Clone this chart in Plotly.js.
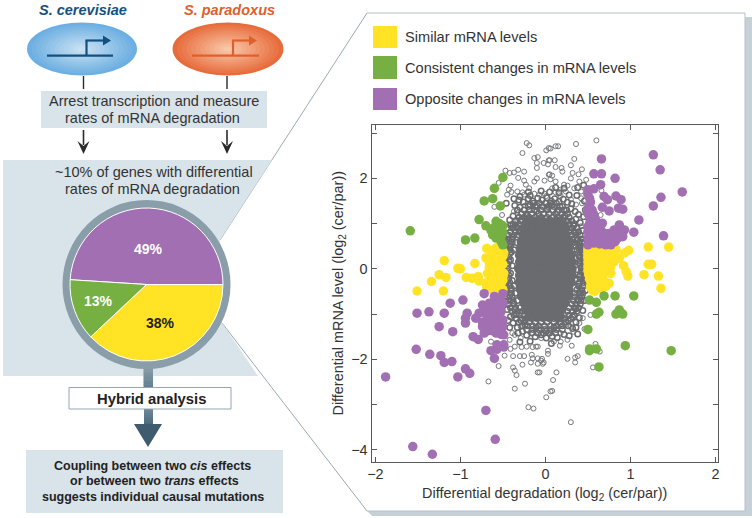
<!DOCTYPE html>
<html><head><meta charset="utf-8">
<script src="https://cdn.plot.ly/plotly-3.0.1.min.js"></script>
<style>html,body{margin:0;padding:0;background:#fff}</style></head>
<body><div id="chart" style="width:752px;height:518px"></div>
<script>
// ---------- data ----------
const pieLabels = ["Opposite changes in mRNA levels","Similar mRNA levels","Consistent changes in mRNA levels"];
const pieValues = [49,38,13];
const legendLabels = ["Similar mRNA levels","Consistent changes in mRNA levels","Opposite changes in mRNA levels"];

const similarPts = [[-.69,.45],[-.70,.24],[-1.19,.18],[-.83,.12],[-1.03,.01],[-1.0,0],[-1.25,-.13],[-1.17,-.19],[-1.34,-.28],[-.93,-.19],[-.86,-.21],[-.79,-.17],[-1.51,-.49],[-1.2,-.49],[-.78,-.27],[-.70,-.32],[-.64,.27],[-.56,.35],[-.50,.38],[-.66,.13],[-.60,.13],[-.54,.20],[-.62,-.02],[-.54,.01],[-.49,-.10],[-.64,-.17],[-.56,-.17],[-.50,-.17],[-.68,-.32],[-.60,-.32],[-.52,-.32],[-.62,-.47],[-.56,-.47],[-.58,.46],[-.49,.35],
[-.52,.45],[-.6,.42],[-.5,.28],[-.57,.24],[-.65,.2],[-.5,.1],[-.58,.06],[-.66,.03],[-.6,-.08],[-.52,-.08],[-.68,-.1],[-.58,-.24],[-.66,-.25],[-.5,-.25],[-.62,-.38],[-.54,-.4],[-.69,-.42],[-.5,-.46],
[1.21,.48],[1.45,.48],[1.21,.10],[1.25,.10],[1.16,-.13],[1.33,-.16],[1.36,-.43],[.98,.41],[.93,.35],[.83,.43],[.79,.31],[.87,.24],[.81,.16],[.92,.07],[.95,-.06],[.97,-.16],[.77,.05],[.77,-.10],[.75,-.32],[.71,-.39],[.50,.38],[.57,.38],[.65,.38],[.73,.38],[.50,.24],[.57,.24],[.65,.24],[.50,.05],[.57,.05],[.65,.05],[.51,-.13],[.59,-.13],[.67,-.13],[.54,-.32],[.61,-.32],[.69,-.32],[.55,-.47],[.63,-.43],
[.5,.44],[.58,.44],[.66,.46],[.5,.31],[.57,.31],[.65,.31],[.73,.28],[.5,.15],[.57,.15],[.65,.15],[.72,.16],[.5,-.04],[.57,-.04],[.65,-.04],[.72,-.02],[.52,-.23],[.6,-.23],[.68,-.23],[.53,-.4],[.6,-.4],[.66,-.45],[.58,-.5]];

const consistentPts = [[-.50,2.02],[-.60,1.78],[-.72,1.50],[-.62,1.55],[-.53,1.39],[-.78,1.09],[-.70,.95],[-1.59,.84],[-.94,.64],[-.83,.68],[-.58,1.05],[-.54,1.0],[-.62,.75],[-.56,.83],[-.50,.80],[-.58,.68],[-.52,.60],[-.50,.53],[-.56,.94],[-.5,.95],[-.6,.92],[-.64,.85],[-.52,.72],
[.52,-.69],[.60,-.74],[.69,-.60],[.82,-.60],[1.04,-.60],[.60,-1.0],[.63,-.96],[.83,-1.0],[.87,-.91],[.91,-1.0],[.50,-1.34],[.52,-1.77],[.52,-1.81],[.60,-1.77],[.94,-1.70],[1.48,-1.81],[.63,-2.17]];

const oppositePts = [[.66,2.43],[1.27,2.52],[1.35,2.19],[.57,2.10],[.66,2.10],[.82,2.0],[.65,1.86],[.57,1.77],[.50,1.75],[1.61,1.70],[1.36,1.58],[1.27,1.39],[.69,1.60],[.73,1.53],[.83,1.61],[.89,1.53],[.67,1.36],[.75,1.28],[.86,1.34],[.91,1.32],[1.10,1.08],[.52,1.56],[.52,1.42],[.55,1.30],[.52,1.12],[.59,1.08],[.67,1.01],[.87,.97],[1.04,.81],[1.39,.73],[.93,.86],[.81,.86],[.91,.71],[.79,.71],[.69,.79],[.57,.86],[.50,.83],[.50,.68],[.59,.68],[.69,.64],[.50,.53],[.57,.57],[.71,.53],[.82,.60],[.65,.94],
[.5,1.65],[.53,1.48],[.5,1.33],[.57,1.2],[.5,1.22],[.61,.99],[.52,1.0],[.5,.93],[.62,.78],[.75,.78],[.86,.8],[.75,.62],[.64,.55],[.77,.53],[.55,.72],[.64,.7],[.85,.68],
[-.72,-.55],[-.60,-.61],[-.50,-.55],[-.97,-.69],[-1.12,-.76],[-1.51,-.98],[-1.37,-.95],[-1.19,-.98],[-.92,-.98],[-.94,-1.09],[-.94,-1.20],[-.82,-1.09],[-1.25,-1.28],[-1.09,-1.39],[-.85,-1.50],[-.79,-1.56],[-1.52,-1.78],[-1.36,-1.89],[-1.23,-1.92],[-1.19,-2.07],[-1.10,-2.05],[-.94,-2.21],[-.89,-2.31],[-1.03,-2.39],[-1.88,-2.39],[-.70,-3.13],[-.59,-3.77],[-1.56,-3.93],[-1.33,-4.10],[-.60,-1.98],[-.64,-1.81],[-.57,-1.78],[-.49,-1.73],[-.57,-1.68],[-.49,-1.68],[-.74,-.80],[-.66,-.76],[-.58,-.72],[-.50,-.76],[-.78,-.98],[-.70,-.94],[-.62,-.94],[-.52,-.94],[-.68,-1.13],[-.60,-1.13],[-.50,-1.13],[-.74,-1.28],[-.66,-1.28],[-.58,-1.28],[-.50,-1.28],[-.72,-1.42],[-.58,-1.42],[-.49,-1.46],
[-.53,-.66],[-.6,-.83],[-.53,-.85],[-.67,-.85],[-.72,-.87],[-.55,-1.03],[-.62,-1.03],[-.69,-1.03],[-.74,-1.18],[-.54,-1.2],[-.62,-1.2],[-.68,-1.37],[-.53,-1.36],[-.62,-1.37],[-.52,-1.45]];

const outlierPts = [[-.22,2.78],[-.19,2.73],[-.27,2.56],[-.13,2.45],[-.09,2.47],[.01,2.62],[.04,2.67],[-.02,2.34],[-.10,2.34],[-.10,2.23],[.04,2.40],[-.47,2.17],[-.42,2.12],[-.37,2.13],[-.32,2.19],[-.25,2.15],[-.32,2.01],[-.25,1.95],[-.23,1.86],[-.55,1.90],[-.10,2.0],[-.13,1.93],[-.01,1.95],[.04,2.08],[-.41,1.84],[-.43,1.75],[-.45,1.64],[-.40,1.70],[-.33,1.71],[-.27,1.69],[-.19,1.78],[-.25,1.64],[-.13,1.66],[-.07,1.64],[-.01,1.66],[-.60,1.37],[-.24,1.40],[-.37,1.27],[-.33,1.23],[-.51,1.19],[-.41,.95],[-.33,1.08],[-.45,.75],[-.38,.71],[-.36,1.05],
[.60,2.84],[.36,2.76],[.06,2.66],[.12,2.71],[.15,2.71],[.34,2.43],[.03,2.31],[.05,2.40],[.11,2.40],[.12,2.25],[.19,2.23],[.20,2.15],[.30,2.29],[.43,2.20],[.32,2.12],[.39,2.09],[.05,2.09],[.08,2.06],[.06,1.98],[.12,1.93],[.30,2.0],[.40,1.93],[.48,1.97],[.22,1.86],[.26,1.84],[.08,1.78],[.18,1.75],[.24,1.71],[.34,1.78],[.42,1.71],[.12,1.69],[.01,1.61],[.18,1.61],[.30,1.53],[.42,1.56],[.36,1.42],[.43,1.45],[.66,1.73],[.65,1.19],[.34,1.01],[.38,.90],[.42,.94],
[-.64,-1.61],[-.42,-1.57],[-.36,-1.46],[-.29,-1.53],[-.48,-1.92],[-.41,-1.77],[-.36,-1.72],[-.28,-1.73],[-.22,-1.72],[-.15,-1.73],[-.11,-1.72],[-.09,-1.72],[-.38,-1.93],[-.30,-1.93],[-.25,-1.93],[-.16,-1.90],[-.15,-1.98],[-.09,-1.98],[-.05,-2.03],[-.17,-2.07],[-.09,-2.10],[-.03,-2.10],[-.27,-2.12],[-.38,-2.18],[-.36,-2.25],[-.34,-2.35],[-.55,-2.15],[-.09,-2.29],[-.07,-2.29],[-.67,-2.49],[-.36,-2.65],[-.24,-2.54],[-.20,-3.06],[-.14,-3.09],[.01,-2.84],[.06,-2.71],[-.29,-1.28],[-.05,-1.53],[-.15,-1.42],[-.39,-1.42],
[.10,-1.61],[.18,-1.61],[.26,-1.57],[.17,-1.70],[.31,-1.70],[.03,-1.81],[.03,-1.88],[.26,-1.99],[.35,-1.96],[.38,-1.93],[.35,-2.07],[-.04,-1.99],[-.02,-2.07],[.13,-2.29],[.09,-2.46],[.08,-2.70],[.30,-3.39],[.59,-1.66],[.64,-1.83],[.56,-2.18],[.46,-1.33],[.33,-1.39],[.40,-1.20],[.53,-1.02],[.44,-1.09],[.30,-1.28],[.18,-1.42],[.03,-1.42],[.24,-1.24]];

const fringePts = [[-.31,1.52],[-.26,1.48],[-.2,1.55],[-.15,1.5],[-.09,1.56],[-.04,1.52],[.02,1.57],[.07,1.5],[.11,1.55],[.16,1.49],[.21,1.54],[.26,1.47],[.31,1.44],[-.36,1.4],[-.3,1.36],[-.33,1.3],[.3,1.33],[.35,1.27],[.39,1.2],[-.38,1.17],[-.42,1.08],[.36,1.1],[.41,1.02],[-.18,1.42],[-.1,1.4],[.08,1.42],[.2,1.38],[.25,1.3],
[-.45,.9],[-.47,.62],[-.5,.45],[-.51,.22],[-.52,.06],[-.51,-.12],[-.5,-.28],[-.49,-.5],[-.47,-.72],[-.45,-.9],[-.41,-1.06],[-.38,-1.2],[-.33,-1.3],
[.44,.85],[.46,.6],[.47,.4],[.48,.15],[.48,-.05],[.48,-.25],[.47,-.48],[.46,-.7],[.44,-.92],[.4,-1.08],[.36,-1.18],[.32,-1.32],
[-.41,.97],[-.36,.86],[-.39,.7],[-.42,.55],[-.4,.37],[-.41,.2],[-.39,.07],[-.41,-.1],[-.39,-.26],[-.4,-.43],[-.42,-.58],[-.38,-.75],[-.36,-.9],[-.34,-1.0],[-.29,-1.14],[-.24,-1.24],[-.11,-1.3],[.01,-1.38],[.1,-1.3],[.18,-1.22],[.27,-1.14],[.32,-1.06],[.36,-.88],[.38,-.68],[.4,-.52],[.39,-.33],[.4,-.17],[.38,-.02],[.39,.14],[.4,.3],[.39,.47],[.37,.63],[.36,.8],[.33,.95],[.27,1.05],[.23,1.17],[.14,1.26],[.02,1.33],[-.1,1.28],[-.22,1.18],[-.28,1.09],[-.34,.93],
[-.32,-1.42],[-.27,-1.38],[-.22,-1.47],[-.12,-1.5],[-.05,-1.46],[.01,-1.53],[.08,-1.49],[.14,-1.52],[.22,-1.45],[.28,-1.48],[.36,-1.3],[.38,-1.44],[-.42,-1.3],[-.44,-1.14],[-.18,-1.6],[.07,-1.65],[-.3,-1.62],
[-.18,1.62],[-.05,1.72],[.05,1.7],[.16,1.68],[.28,1.63],[.37,1.62],[-.3,1.6],[-.37,1.55],[-.2,1.7],[.12,1.8],[.22,1.78],[.38,1.8],[.45,1.85],[.46,1.5],[.47,1.3],[.45,1.15],[-.46,1.45]];

// rim of the dense cloud: one row per y level, [y, [x values]]
const rimRows = [[1.45,[-.14,-.07,0,.06,.13]],[1.38,[-.2,-.12,-.03,.03,.1,.17]],[1.3,[-.25,-.19,-.13,-.05,.02,.09,.16,.22]],[1.22,[-.28,-.22,-.16,-.08,-.02,.04,.12,.19,.26]],[1.14,[-.31,-.25,-.19,-.12,-.05,.02,.09,.15,.21,.28]],[1.06,[-.35,-.29,-.23,-.17,.17,.24,.31]],[.98,[-.38,-.31,-.25,.22,.28,.34]],[.9,[-.39,-.33,-.27,.25,.31,.37]],[.82,[-.41,-.35,-.3,.28,.34,.39]],[.74,[-.43,-.37,-.31,.3,.36,.41]],[.66,[-.44,-.39,.32,.38,.42]],[.58,[-.45,-.39,-.34,.34,.39,.43]],[.5,[-.46,-.41,.36,.41,.44]],[.42,[-.47,-.42,-.37,.37,.42,.45]],[.34,[-.47,-.42,.38,.43]],[.26,[-.48,-.43,.4,.45]],[.18,[-.48,-.43,.41,.46]],[.1,[-.49,-.44,.41,.46]],[.02,[-.49,-.44,.42,.46]],[-.06,[-.49,-.44,.42,.46]],[-.14,[-.48,-.43,.41,.46]],[-.22,[-.48,-.43,.41,.45]],[-.3,[-.47,-.42,.4,.45]],[-.38,[-.47,-.42,-.37,.39,.44]],[-.46,[-.46,-.41,.37,.43]],[-.54,[-.46,-.4,-.35,.35,.41,.44]],[-.62,[-.45,-.39,.34,.4,.43]],[-.7,[-.44,-.38,-.33,.33,.38,.42]],[-.78,[-.43,-.37,.31,.36,.41]],[-.86,[-.41,-.35,-.3,.28,.34,.39]],[-.94,[-.39,-.33,-.27,.26,.32,.37]],[-1.02,[-.37,-.31,-.25,.22,.28,.34]],[-1.1,[-.34,-.28,-.22,-.16,-.1,-.03,.04,.1,.16,.23,.3]],[-1.18,[-.31,-.25,-.19,-.12,-.05,.02,.1,.17,.24]],[-1.26,[-.27,-.21,-.15,-.08,-.01,.06,.13,.2,.27]],[-1.34,[-.22,-.15,-.08,-.01,.06,.13,.2]],[-1.42,[-.16,-.09,-.02,.05,.12]]];

// solid centre of the cloud, where single genes can no longer be told apart
const coreRows = [[1.05,[-.19,-.11,-.04,.05,.13,.19]],[.9,[-.23,-.14,-.06,.03,.11,.19,.23]],[.75,[-.26,-.18,-.09,-.01,.08,.16,.24]],[.6,[-.28,-.2,-.12,-.04,.04,.12,.2,.28]],[.45,[-.29,-.21,-.13,-.05,.03,.11,.19,.27]],[.3,[-.3,-.22,-.14,-.06,.02,.1,.18,.26,.3]],[.15,[-.3,-.22,-.14,-.06,.02,.1,.18,.26,.31]],[0,[-.31,-.23,-.15,-.07,.01,.09,.17,.25,.31]],[-.15,[-.3,-.22,-.14,-.06,.02,.1,.18,.26,.31]],[-.3,[-.3,-.22,-.14,-.06,.02,.1,.18,.26,.3]],[-.45,[-.29,-.21,-.13,-.05,.03,.11,.19,.27]],[-.6,[-.28,-.2,-.12,-.04,.04,.12,.2,.27]],[-.75,[-.25,-.17,-.09,-.01,.07,.15,.23]],[-.9,[-.23,-.15,-.07,.02,.1,.19]],[-1.05,[-.19,-.11,-.04,.05,.13,.17]]];

const xTickVals = [-2,-1,0,1,2];
const xTickText = ["\u22122","\u22121","0","1","2"];
const yTickVals = [-4,-2,0,2];
const yTickText = ["\u22124","\u22122","0","2"];
const yMinorVals = [-3,-1,1,3];

// ---------- styles ----------
const YELLOW="#ffe324", GREEN="#76b043", PURPLE="#a26fb3", GREY="#6a6b6f", PALE="#d9e3ea", RING="#8a9eaa", INK="#333333", BLUE="#14507f", ORANGE="#e0602c", EDGE="#b4c1ca";
const FONT="Liberation Sans, Arial, sans-serif";
const W=752,H=518;
const fx=x=>x/W, fy=y=>1-y/H;
const path=pts=>"M"+pts.map(p=>fx(p[0])+","+fy(p[1])).join("L")+"Z";
const poly=(pts,c)=>({type:"path",xref:"paper",yref:"paper",path:path(pts),fillcolor:c,line:{width:0},layer:"below"});
const rect=(x0,y0,x1,y1,c,lc,lw)=>({type:"rect",xref:"paper",yref:"paper",x0:fx(x0),x1:fx(x1),y0:fy(y1),y1:fy(y0),fillcolor:c,line:{width:lw||0,color:lc||c},layer:"below"});
const seg=(x0,y0,x1,y1,c,w)=>({type:"line",xref:"paper",yref:"paper",x0:fx(x0),x1:fx(x1),y0:fy(y0),y1:fy(y1),line:{color:c,width:w},layer:"below"});
const oval=(cx,cy,rx,ry,c)=>({type:"circle",xref:"paper",yref:"paper",x0:fx(cx-rx),x1:fx(cx+rx),y0:fy(cy+ry),y1:fy(cy-ry),fillcolor:c,line:{width:0},layer:"below"});
const text=(t,x,y,size,color,opt)=>Object.assign({text:t,xref:"paper",yref:"paper",x:fx(x),y:fy(y),xanchor:"center",yanchor:"middle",showarrow:false,font:{family:FONT,size:size,color:color}},opt||{});
const mix=(a,b,t)=>{const h=s=>[1,3,5].map(i=>parseInt(s.substr(i,2),16));const A=h(a),B=h(b);return "rgb("+A.map((v,i)=>Math.round(v+(B[i]-v)*t)).join(",")+")";};
function glowOval(cx,cy,rx,ry,edge,centre){const out=[];for(let i=0;i<12;i++){const k=1-i/12;out.push(oval(cx,cy,rx*k,ry*k,mix(edge,centre,i/11)));}return out;}
function promoter(x0,x1,xv,tip,c){return [seg(x0,55.7,x1,55.7,c,2.2),seg(xv,56,xv,40.5,c,2.2),seg(xv-1,40.5,tip-7,40.5,c,2.2),poly([[tip-8,35.5],[tip,40.5],[tip-8,45.5]],c)];}
function downArrow(x){return [seg(x,130,x,145,"#2b2b2b",1.6),poly([[x-6,141],[x,146],[x+6,141],[x,154]],"#2b2b2b")];}
function stem(x0,x1,y0,y1,top,bottom){const n=8,o=[];for(let i=0;i<n;i++){o.push(rect(x0,y0+(y1-y0)*i/n,x1,y0+(y1-y0)*(i+1)/n+0.5,mix(top,bottom,i/(n-1))));}return o;}

const shapes=[].concat(
  [poly([[371,17],[752,17],[752,516],[372,516],[367,511]],"#c6d0d7"),
   poly([[367,13],[745,13],[745,511],[367,511],[222,323],[220,240]],"#ffffff"),
   seg(367,13,745,13,EDGE,1),seg(745,13,745,511,EDGE,1),seg(745,511,367,511,EDGE,1),seg(367,511,222,323,"#9aa9b3",1),seg(367,13,220,240,"#9aa9b3",1)],
  glowOval(82,49,55,26.5,"#6cafe2","#c8e0f2"),
  glowOval(228,49,55.5,26.5,"#e76c3c","#f9c6a8"),
  promoter(47,113,86.5,111,BLUE),
  promoter(192,259,233,257,ORANGE),
  [seg(83.5,76,83.5,89,"#2b2b2b",1.4),seg(227,76,227,89,"#2b2b2b",1.4),rect(41,91,267,128,PALE)],
  downArrow(83.5),downArrow(227),
  [poly([[3,160],[272,160],[220,240],[222,323],[258,376],[3,376]],PALE)],
  stem(143.5,153,366,387,"#8a9eaa","#64808f"),
  [oval(146.5,284.5,84,84.5,RING)],
  stem(144,153,409,425,"#6b8695","#4c6a7d"),
  [poly([[134,424],[162,424],[148,447]],"#3f5b6e")],
  [rect(69,387.5,231,409,"#ffffff","#93a6b1",1),rect(26,450,283,513,PALE)],
  [rect(373,26,397,48,YELLOW),rect(373,56,397,79,GREEN),rect(373,88,397,110,PURPLE)]
);

const annotations=[
  text("<b><i>S. cerevisiae</i></b>",83,10,14.5,BLUE),
  text("<b><i>S. paradoxus</i></b>",229,10,14.5,ORANGE),
  text("Arrest transcription and measure",154,101,14.5,INK),
  text("rates of mRNA degradation",152,118,14.5,INK),
  text("~10% of genes with differential",154,171.5,14.5,INK),
  text("rates of mRNA degradation",152,189,14.5,INK),
  text("<b>"+pieValues[0]+"%</b>",148,249,14,"#ffffff"),
  text("<b>"+pieValues[2]+"%</b>",98,301,14,"#ffffff"),
  text("<b>"+pieValues[1]+"%</b>",160,322.5,14,"#222222"),
  text("<b>Hybrid analysis</b>",151,398.5,14.8,"#222222"),
  text("<b>Coupling between two <i>cis</i> effects</b>",152,466,12.5,"#222222"),
  text("<b>or between two <i>trans</i> effects</b>",154,481,12.5,"#222222"),
  text("<b>suggests individual causal mutations</b>",153,496.5,12.5,"#222222"),
  text(legendLabels[0],402.5,36.5,14.6,INK,{xanchor:"left"}),
  text(legendLabels[1],402.5,67.5,14.6,INK,{xanchor:"left"}),
  text(legendLabels[2],402.5,98.5,14.6,INK,{xanchor:"left"})
];

const rowsX=r=>r.flatMap(([y,xs])=>xs), rowsY=r=>r.flatMap(([y,xs])=>xs.map(()=>y));
const ptsX=p=>p.map(q=>q[0]), ptsY=p=>p.map(q=>q[1]);
const openMarker={symbol:"circle-open",size:5,color:"#77787c",line:{width:1,color:"#77787c"}};
const denseMarker={symbol:"circle-open",size:5.5,color:GREY,line:{width:1.5,color:GREY}};
const dot=c=>({symbol:"circle",size:9.5,color:c,line:{width:0}});
const cloud=(name,x,y,marker)=>({type:"scatter",mode:"markers",name,x,y,marker,showlegend:false});
const traces=[
  cloud("Other genes",ptsX(outlierPts),ptsY(outlierPts),openMarker),
  cloud("Other genes (fringe)",ptsX(fringePts),ptsY(fringePts),denseMarker),
  cloud("Other genes (rim)",rowsX(rimRows),rowsY(rimRows),denseMarker),
  cloud("Other genes (core)",rowsX(coreRows),rowsY(coreRows),{symbol:"circle",size:10,color:GREY,line:{width:0}}),
  cloud(legendLabels[0],ptsX(similarPts),ptsY(similarPts),dot(YELLOW)),
  cloud(legendLabels[1],ptsX(consistentPts),ptsY(consistentPts),dot(GREEN)),
  cloud(legendLabels[2],ptsX(oppositePts),ptsY(oppositePts),dot(PURPLE)),
  {type:"pie",labels:pieLabels,values:pieValues,sort:false,direction:"clockwise",rotation:-86.4,textinfo:"none",hole:0,
   domain:{x:[fx(70),fx(223)],y:[fy(361),fy(208)]},marker:{colors:[PURPLE,YELLOW,GREEN],line:{color:"#ffffff",width:1}},showlegend:false}
];
const axis={showgrid:false,zeroline:false,showline:true,linecolor:"#58595b",linewidth:1.5,mirror:"ticks",ticks:"inside",ticklen:5,tickwidth:1,tickcolor:"#58595b",tickmode:"array",tickfont:{family:FONT,size:14.4,color:INK},automargin:false};
const layout={width:W,height:H,margin:{l:0,r:0,t:0,b:0,pad:0},paper_bgcolor:"#ffffff",plot_bgcolor:"rgba(0,0,0,0)",font:{family:FONT,color:INK},showlegend:false,hovermode:false,
  xaxis:Object.assign({},axis,{domain:[fx(372),fx(717.5)],range:[-2.04,2.025],tickvals:xTickVals,ticktext:xTickText,ticklabelstandoff:-1,title:{text:"Differential degradation (log<sub>2</sub> (cer/par))",font:{family:FONT,size:14.4,color:INK},standoff:6}}),
  yaxis:Object.assign({},axis,{domain:[fy(461.5),fy(125)],range:[-4.26,3.18],tickvals:yTickVals,ticktext:yTickText,minor:{tickmode:"array",tickvals:yMinorVals,ticks:"inside",ticklen:5,tickwidth:1,tickcolor:"#58595b",showgrid:false},title:{text:"Differential mRNA level (log<sub>2</sub> (cer/par))",font:{family:FONT,size:14.4,color:INK},standoff:4}}),
  shapes:shapes,annotations:annotations};
Plotly.newPlot("chart",traces,layout,{displayModeBar:false,staticPlot:true});
</script></body></html>
